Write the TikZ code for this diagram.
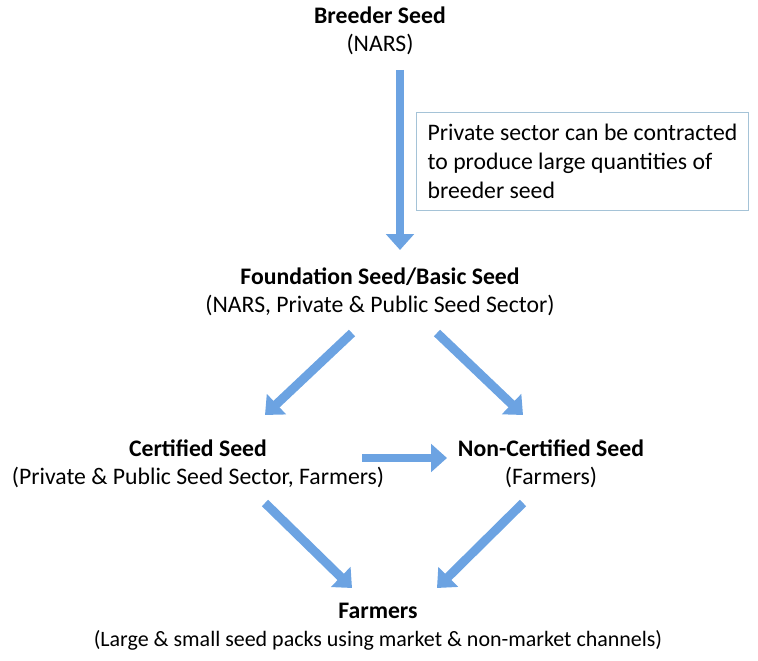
\documentclass[tikz,border=0pt]{standalone}
\usepackage{fontspec}
\setmainfont{Carlito}
\usetikzlibrary{arrows.meta}
\definecolor{arrowblue}{RGB}{108,163,226}
\definecolor{boxline}{RGB}{165,195,215}

\begin{document}
\begin{tikzpicture}[x=0.02cm,y=-0.02cm,
  stage/.style={
    align=center,
    font=\fontsize{13.5}{16}\selectfont,
    inner sep=0pt
  },
  note/.style={
    draw=boxline,
    line width=0.6pt,
    align=left,
    anchor=north west,
    minimum width=6.64cm,
    minimum height=1.96cm,
    inner xsep=0.1cm,
    font=\fontsize{13.5}{16.4}\selectfont
  },
  flow/.style={
    draw=arrowblue,
    line width=5.1pt,
    -{Triangle[width=15.5pt,length=9pt]}
  }
  ]

  \useasboundingbox (0,0) rectangle (758,661);

  \node [stage] (breeder) at (380,31) {\textbf{Breeder Seed}\\(NARS)};
  \node [stage] (found) at (380,292) {\textbf{Foundation Seed/Basic Seed}\\(NARS, Private \& Public Seed Sector)};
  \node [stage] (cert) at (198,464) {\textbf{Certified Seed}\\(Private \& Public Seed Sector, Farmers)};
  \node [stage] (noncert) at (551,464) {\textbf{Non-Certified Seed}\\(Farmers)};
  \node [stage] (farmers) at (378,627) {\textbf{Farmers}\\{\fontsize{12.5}{16}\selectfont(Large \& small seed packs using market \& non-market channels)}};

  \node [note] (contract) at (416,112) {Private sector can be contracted\\to produce large quantities of\\breeder seed};

  % arrow ends
  \coordinate (b0) at (400,70);
  \coordinate (b1) at (400,250);
  \coordinate (fl0) at (352,333);
  \coordinate (fl1) at (265,415);
  \coordinate (fr0) at (437,333);
  \coordinate (fr1) at (523,415);
  \coordinate (cn0) at (362,458);
  \coordinate (cn1) at (447,458);
  \coordinate (cf0) at (265,503);
  \coordinate (cf1) at (352,588);
  \coordinate (nf0) at (523,503);
  \coordinate (nf1) at (437,588);

  \draw [flow] (b0) -- (b1);
  \draw [flow] (fl0) -- (fl1);
  \draw [flow] (fr0) -- (fr1);
  \draw [flow] (cn0) -- (cn1);
  \draw [flow] (cf0) -- (cf1);
  \draw [flow] (nf0) -- (nf1);

\end{tikzpicture}
\end{document}
